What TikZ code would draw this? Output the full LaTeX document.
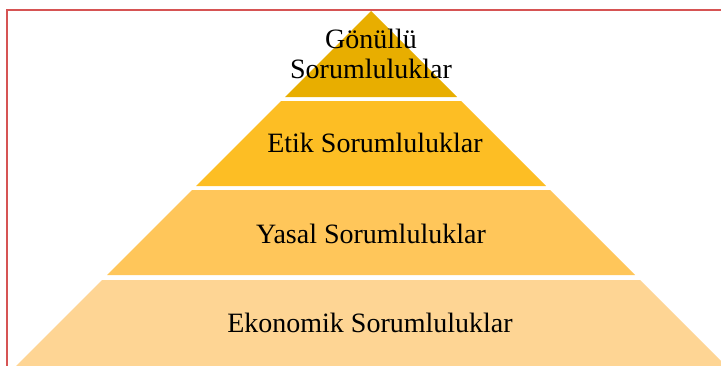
\documentclass[tikz,border=0pt]{standalone}
\usepackage{fontspec}
\setmainfont{Liberation Serif}
\definecolor{frameRed}{RGB}{214,84,84}
\definecolor{tierTop}{RGB}{232,174,0}
\definecolor{tierTwo}{RGB}{253,190,36}
\definecolor{tierThree}{RGB}{255,198,90}
\definecolor{tierBase}{RGB}{254,213,148}
\begin{document}
\begin{tikzpicture}[x=0.75pt,y=-0.75pt,
    tierlabel/.style={font=\fontsize{21}{22.5}\selectfont, align=center, text=black}]
  \useasboundingbox (0,0) rectangle (721,365);
  \begin{scope}
   \clip (0,0) rectangle (721,365);
   % frame
   \draw[frameRed, line width=0.8pt] (7,380) -- (7,10) -- (740,10);
    % tiers of the pyramid
    \foreach \yt/\yb/\col [evaluate=\yt as \wt using \yt-11,
        evaluate=\yb as \wb using \yb-11] in
        {11/97/tierTop, 101/186/tierTwo, 190/275/tierThree, 280/380/tierBase}
     {
      \fill[\col] (371-\wt,\yt) -- (371+\wt,\yt)
        -- (371+\wb,\yb) -- (371-\wb,\yb) -- cycle;
     }
  \end{scope}
  % labels
  \node[tierlabel] (gonullu) at (371,54) {Gönüllü\\Sorumluluklar};
  \node[tierlabel] (etik) at (375,143) {Etik Sorumluluklar};
  \node[tierlabel] (yasal) at (371,234) {Yasal Sorumluluklar};
  \node[tierlabel] (ekonomik) at (370,323) {Ekonomik Sorumluluklar};
\end{tikzpicture}
\end{document}
